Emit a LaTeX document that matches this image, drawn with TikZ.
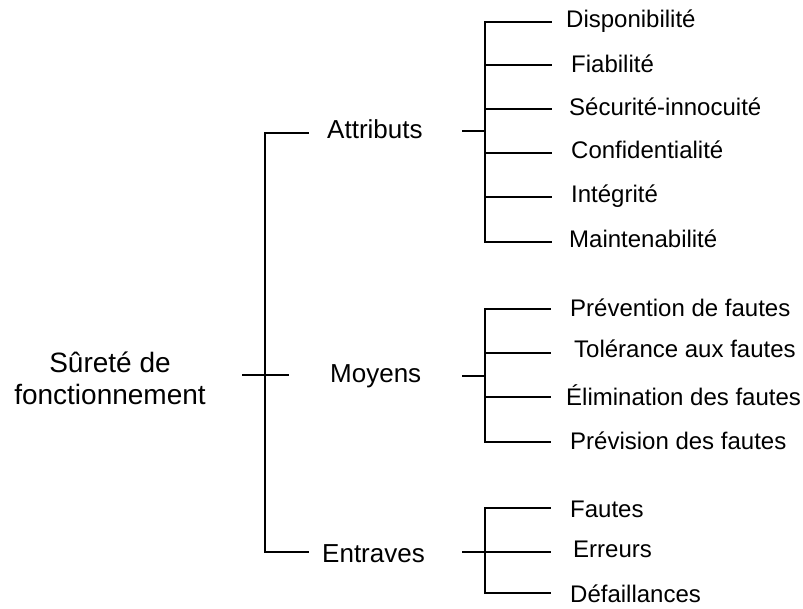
\documentclass[tikz,border=0pt]{standalone}
\usepackage{fontspec}
\setmainfont{Liberation Sans}
\begin{document}
\begin{tikzpicture}[x=1pt,y=-1pt,
  link/.style={line width=2pt,line cap=rect},
  rootlbl/.style={inner sep=0pt,align=center,font=\fontsize{28}{32}\selectfont},
  midlbl/.style={inner sep=0pt,anchor=base west,font=\fontsize{26}{30}\selectfont},
  leaflbl/.style={inner sep=0pt,anchor=base west,font=\fontsize{24}{28}\selectfont}]
\useasboundingbox (0,0) rectangle (803,608);

% root and the three branches
\node[rootlbl] (root) at (110,378) {Sûreté de\\fonctionnement};
\node[midlbl] (attr) at (327,138) {Attributs};
\node[midlbl] (moy)  at (330,382) {Moyens};
\node[midlbl] (ent)  at (322,562) {Entraves};

% attributes
\node[leaflbl] (a1) at (566,27)  {Disponibilité};
\node[leaflbl] (a2) at (571,72)  {Fiabilité};
\node[leaflbl] (a3) at (569,115) {Sécurité-innocuité};
\node[leaflbl] (a4) at (571,158) {Confidentialité};
\node[leaflbl] (a5) at (571,202) {Intégrité};
\node[leaflbl] (a6) at (569,247) {Maintenabilité};

% means
\node[leaflbl] (m1) at (570,316) {Prévention de fautes};
\node[leaflbl] (m2) at (574,357) {Tolérance aux fautes};
\node[leaflbl] (m3) at (566,405) {Élimination des fautes};
\node[leaflbl] (m4) at (570,449) {Prévision des fautes};

% impairments
\node[leaflbl] (e1) at (570,517) {Fautes};
\node[leaflbl] (e2) at (573,557) {Erreurs};
\node[leaflbl] (e3) at (570,602) {Défaillances};

% line ends next to the labels
\coordinate (root-out) at (243,375);
\coordinate (rj)       at (265,375);
\coordinate (attr-in)  at (308,133);
\coordinate (moy-in)   at (288,375);
\coordinate (ent-in)   at (308,552);

\coordinate (attr-out) at (463,131);
\coordinate (aj)       at (485,131);
\coordinate (a1-in) at (551,22);
\coordinate (a2-in) at (551,65);
\coordinate (a3-in) at (551,109);
\coordinate (a4-in) at (551,153);
\coordinate (a5-in) at (551,197);
\coordinate (a6-in) at (551,242);

\coordinate (moy-out) at (463,376);
\coordinate (mj)      at (485,376);
\coordinate (m1-in) at (550,309);
\coordinate (m2-in) at (550,353);
\coordinate (m3-in) at (550,397);
\coordinate (m4-in) at (550,442);

\coordinate (ent-out) at (463,552);
\coordinate (ej)      at (485,552);
\coordinate (e1-in) at (550,508);
\coordinate (e2-in) at (550,552);
\coordinate (e3-in) at (550,593);

% root bracket
\draw[link] (root-out) -- (moy-in);
\draw[link] (attr-in) -| (rj) |- (ent-in);

% attribute bracket
\draw[link] (attr-out) -- (aj);
\draw[link] (a1-in) -| (aj) |- (a6-in);
\foreach \k in {2,...,5} \draw[link] (aj |- a\k-in) -- (a\k-in);

% means bracket
\draw[link] (moy-out) -- (mj);
\draw[link] (m1-in) -| (mj) |- (m4-in);
\foreach \k in {2,3} \draw[link] (mj |- m\k-in) -- (m\k-in);

% impairment bracket
\draw[link] (ent-out) -- (ej);
\draw[link] (e1-in) -| (ej) |- (e3-in);
\draw[link] (ej |- e2-in) -- (e2-in);
\end{tikzpicture}
\end{document}
